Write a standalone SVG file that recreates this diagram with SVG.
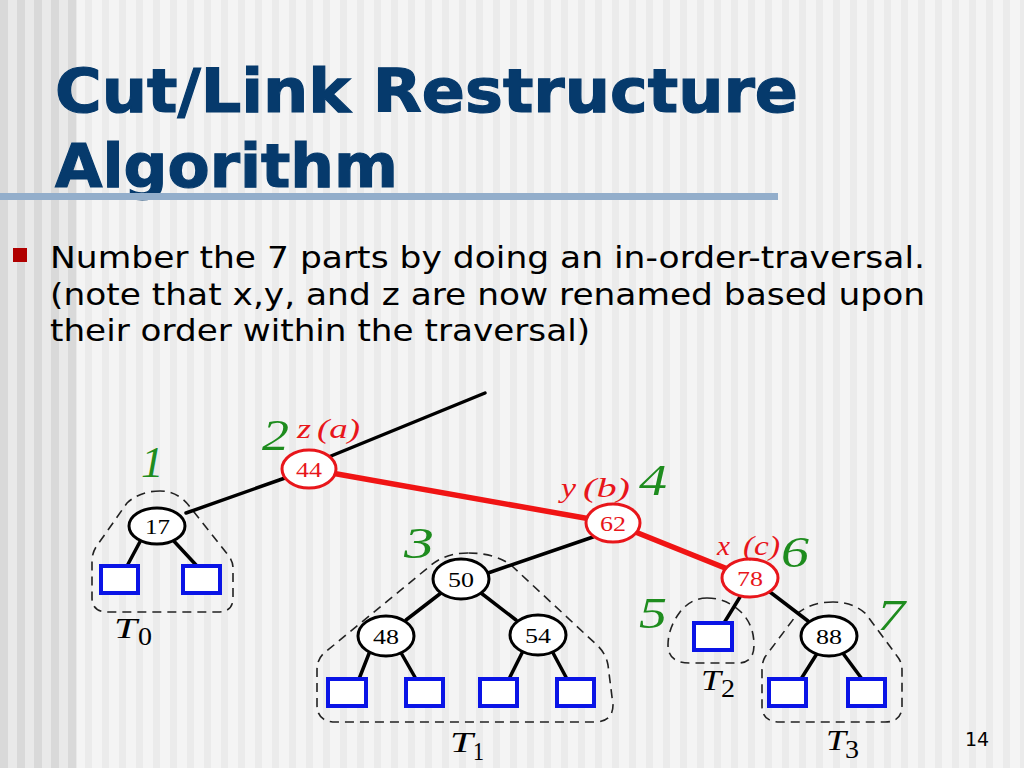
<svg xmlns="http://www.w3.org/2000/svg" width="1024" height="768" viewBox="0 0 1024 768">
<defs>
<pattern id="stripesL" x="0" y="0" width="17" height="10" patternUnits="userSpaceOnUse">
<rect x="0" y="0" width="17" height="10" fill="#e9e9e9"/>
<rect x="0" y="0" width="8" height="10" fill="#d9d9d9"/>
</pattern>
<pattern id="stripesR" x="0" y="0" width="17" height="10" patternUnits="userSpaceOnUse">
<rect x="0" y="0" width="17" height="10" fill="#f4f4f4"/>
<rect x="0" y="0" width="7" height="10" fill="#ebebeb"/>
</pattern>
<style>
.title{font-family:"DejaVu Sans",Verdana,sans-serif;font-weight:bold;font-size:61px;fill:#063a6c;stroke:#063a6c;stroke-width:1.2}
.body{font-family:"DejaVu Sans",Verdana,sans-serif;font-size:31px;fill:#000}
.nb{fill:#fff;stroke:#000;stroke-width:3}
.nr{fill:#fff;stroke:#e8161b;stroke-width:3}
.nt{font-family:"Liberation Serif","Times New Roman",serif;font-size:21px}
.ntb{fill:#000}
.ntr{fill:#e8161b}
.leaf{fill:#fff;stroke:#0a14e6;stroke-width:4}
.edge{stroke:#000;stroke-width:3.5;fill:none;stroke-linecap:round}
.redge{stroke:#f01414;stroke-width:5.5;fill:none;stroke-linecap:round}
.dash{fill:none;stroke:#222;stroke-width:1.6;stroke-dasharray:9,6}
.num{font-family:"Liberation Serif","Times New Roman",serif;font-style:italic;font-size:45px;fill:#1e8c1e}
.lab{font-family:"Liberation Serif","Times New Roman",serif;font-style:italic;font-size:27px;fill:#e8161b}
.tl{font-family:"Liberation Serif","Times New Roman",serif;font-style:italic;font-size:30px;fill:#000}
.ts{font-family:"Liberation Serif","Times New Roman",serif;font-size:26px;fill:#000}
</style>
</defs>
<rect x="0" y="0" width="1024" height="768" fill="url(#stripesR)"/>
<rect x="0" y="0" width="77" height="768" fill="url(#stripesL)"/>
<g id="title">
<text class="title" x="55" y="112" textLength="743" lengthAdjust="spacingAndGlyphs">Cut/Link Restructure</text>
<text class="title" x="55" y="187" textLength="343" lengthAdjust="spacingAndGlyphs">Algorithm</text>
<rect x="0" y="193" width="778" height="7" fill="#93aecb"/>
</g>
<g id="bullet-text">
<rect x="13" y="248" width="14" height="14" fill="#b00000"/>
<text class="body" x="50" y="268" textLength="875" lengthAdjust="spacingAndGlyphs">Number the 7 parts by doing an in-order-traversal.</text>
<text class="body" x="50" y="305" textLength="875" lengthAdjust="spacingAndGlyphs">(note that x,y, and z are now renamed based upon</text>
<text class="body" x="50" y="341" textLength="540" lengthAdjust="spacingAndGlyphs">their order within the traversal)</text>
</g>
<g id="subtree-outlines">
<path id="T0-outline" class="dash" d="M160 491 Q140 491 127 503 L96 547 Q92 553 92 562 L92 598 Q92 612 108 612 L218 612 Q233 612 233 598 L233 568 Q233 561 228 555 L190 507 Q178 491 160 491 Z"/>
<path id="T1-outline" class="dash" d="M468 553 Q445 553 430 566 L323 654 Q317 660 317 670 L317 705 Q317 722 336 722 L594 722 Q613 722 613 705 L608 665 Q606 654 598 646 L512 566 Q496 553 468 553 Z"/>
<path id="T2-outline" class="dash" d="M707 598 Q691 598 680 612 Q668 628 668 645 Q668 663 690 663 L738 663 Q754 663 754 645 Q754 625 741 612 Q726 598 707 598 Z"/>
<path id="T3-outline" class="dash" d="M833 602 Q812 602 798 613 L765 657 Q762 662 762 670 L762 706 Q762 722 780 722 L885 722 Q902 722 902 706 L902 670 Q902 662 897 656 L866 614 Q853 602 833 602 Z"/>
</g>
<g id="connectors">
<line class="edge" x1="309" y1="465" x2="485" y2="393"/>
<line class="edge" x1="186" y1="513" x2="285" y2="478"/>
<line class="edge" x1="142" y1="538" x2="127" y2="566"/>
<line class="edge" x1="171" y1="538" x2="197" y2="566"/>
<line class="redge" x1="309" y1="469" x2="613" y2="523"/>
<line class="redge" x1="613" y1="523" x2="750" y2="578"/>
<line class="edge" x1="593" y1="537" x2="488" y2="573"/>
<line class="edge" x1="441" y1="593" x2="406" y2="620"/>
<line class="edge" x1="481" y1="593" x2="516" y2="620"/>
<line class="edge" x1="370" y1="651" x2="359" y2="679"/>
<line class="edge" x1="400" y1="651" x2="416" y2="679"/>
<line class="edge" x1="523" y1="651" x2="509" y2="679"/>
<line class="edge" x1="552" y1="651" x2="567" y2="679"/>
<line class="edge" x1="740" y1="597" x2="724" y2="623"/>
<line class="edge" x1="770" y1="592" x2="808" y2="621"/>
<line class="edge" x1="818" y1="652" x2="801" y2="679"/>
<line class="edge" x1="842" y1="652" x2="862" y2="679"/>
</g>
<g id="node-44">
<ellipse class="nr" cx="309" cy="469" rx="27" ry="19"/>
<text class="nt ntr" x="296" y="477" textLength="26" lengthAdjust="spacingAndGlyphs">44</text>
</g>
<g id="node-17">
<ellipse class="nb" cx="157" cy="526" rx="28" ry="18"/>
<text class="nt ntb" x="145" y="534" textLength="25" lengthAdjust="spacingAndGlyphs">17</text>
</g>
<g id="node-62">
<ellipse class="nr" cx="613" cy="523" rx="27" ry="19"/>
<text class="nt ntr" x="600" y="531" textLength="26" lengthAdjust="spacingAndGlyphs">62</text>
</g>
<g id="node-78">
<ellipse class="nr" cx="750" cy="578" rx="28" ry="19"/>
<text class="nt ntr" x="737" y="586" textLength="26" lengthAdjust="spacingAndGlyphs">78</text>
</g>
<g id="node-50">
<ellipse class="nb" cx="461" cy="579" rx="28" ry="20"/>
<text class="nt ntb" x="448" y="587" textLength="26" lengthAdjust="spacingAndGlyphs">50</text>
</g>
<g id="node-48">
<ellipse class="nb" cx="386" cy="636" rx="28" ry="20"/>
<text class="nt ntb" x="373" y="644" textLength="26" lengthAdjust="spacingAndGlyphs">48</text>
</g>
<g id="node-54">
<ellipse class="nb" cx="538" cy="635" rx="28" ry="20"/>
<text class="nt ntb" x="525" y="643" textLength="26" lengthAdjust="spacingAndGlyphs">54</text>
</g>
<g id="node-88">
<ellipse class="nb" cx="829" cy="636" rx="28" ry="20"/>
<text class="nt ntb" x="816" y="644" textLength="26" lengthAdjust="spacingAndGlyphs">88</text>
</g>
<g id="leaves">
<rect class="leaf" x="101" y="566" width="37" height="27"/>
<rect class="leaf" x="183" y="566" width="37" height="27"/>
<rect class="leaf" x="328" y="679" width="38" height="27"/>
<rect class="leaf" x="406" y="679" width="37" height="27"/>
<rect class="leaf" x="480" y="679" width="37" height="27"/>
<rect class="leaf" x="557" y="679" width="37" height="27"/>
<rect class="leaf" x="694" y="623" width="38" height="27"/>
<rect class="leaf" x="769" y="679" width="37" height="27"/>
<rect class="leaf" x="848" y="679" width="37" height="27"/>
</g>
<g id="labels">
<text class="num" x="141" y="477">1</text>
<text class="num" x="262" y="450" textLength="27" lengthAdjust="spacingAndGlyphs">2</text>
<text class="lab" x="297" y="438"><tspan textLength="14" lengthAdjust="spacingAndGlyphs">z</tspan><tspan x="317" textLength="43" lengthAdjust="spacingAndGlyphs">(a)</tspan></text>
<text class="num" x="404" y="558" textLength="30" lengthAdjust="spacingAndGlyphs">3</text>
<text class="lab" x="561" y="497"><tspan textLength="15" lengthAdjust="spacingAndGlyphs">y</tspan><tspan x="583" textLength="47" lengthAdjust="spacingAndGlyphs">(b)</tspan></text>
<text class="num" x="639" y="495" textLength="28" lengthAdjust="spacingAndGlyphs">4</text>
<text class="num" x="639" y="628" textLength="28" lengthAdjust="spacingAndGlyphs">5</text>
<text class="lab" x="717" y="555"><tspan textLength="13" lengthAdjust="spacingAndGlyphs">x</tspan><tspan x="743" textLength="37" lengthAdjust="spacingAndGlyphs">(c)</tspan></text>
<text class="num" x="781" y="567" textLength="28" lengthAdjust="spacingAndGlyphs">6</text>
<text class="num" x="877" y="630" textLength="28" lengthAdjust="spacingAndGlyphs">7</text>
</g>
<g id="subtree-labels">
<text class="tl" x="114" y="638" textLength="23" lengthAdjust="spacingAndGlyphs">T</text><text class="ts" x="138" y="645" textLength="14" lengthAdjust="spacingAndGlyphs">0</text>
<text class="tl" x="450" y="752" textLength="23" lengthAdjust="spacingAndGlyphs">T</text><text class="ts" x="473" y="760" textLength="11" lengthAdjust="spacingAndGlyphs">1</text>
<text class="tl" x="701" y="690" textLength="20" lengthAdjust="spacingAndGlyphs">T</text><text class="ts" x="721" y="697" textLength="14" lengthAdjust="spacingAndGlyphs">2</text>
<text class="tl" x="826" y="750" textLength="20" lengthAdjust="spacingAndGlyphs">T</text><text class="ts" x="845" y="758" textLength="14" lengthAdjust="spacingAndGlyphs">3</text>
</g>
<text x="965" y="746" font-family="'DejaVu Sans',Verdana,sans-serif" font-size="19" fill="#000">14</text>
</svg>
